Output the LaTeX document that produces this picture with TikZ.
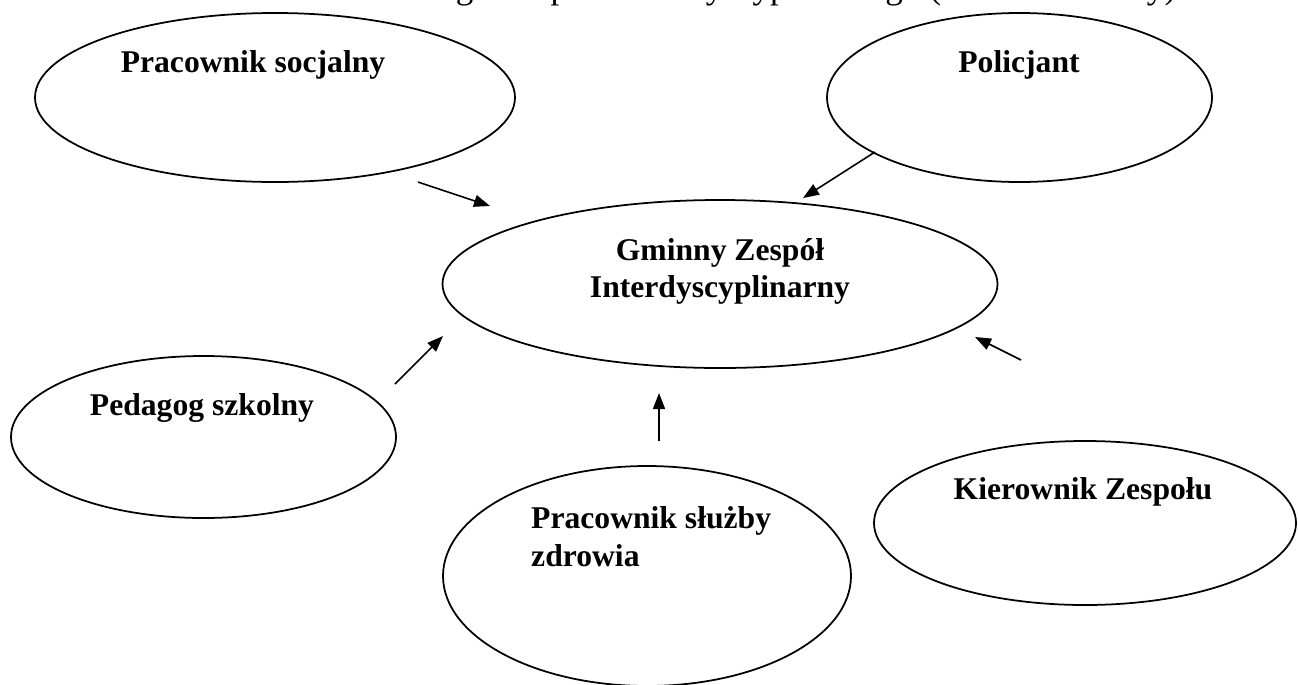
\documentclass[tikz,border=0pt]{standalone}
\usepackage{fontspec}
\setmainfont{Liberation Serif}
\usepackage{tikz}
\usetikzlibrary{shapes.geometric,arrows.meta}

\tikzset{
  oval/.style={ellipse, draw, line width=1pt, inner sep=0pt},
  lbl/.style={font=\fontsize{18}{21.5}\selectfont\bfseries},
  >={Triangle[length=0.32cm,width=0.24cm]}
}

\begin{document}
\begin{tikzpicture}
\useasboundingbox (0,0) rectangle (25.96,-13.68);
% line of text above, cut by the page edge
\node[anchor=base, inner sep=0pt, font=\fontsize{20}{24}\selectfont] (tytul) at (14.30,0.04) {Skład Gminnego Zespołu Interdyscyplinarnego (schemat własny)};

% ellipses
\node[oval, minimum width=9.6cm, minimum height=3.38cm] (soc) at (5.50,-1.95) {};
\node[oval, minimum width=7.7cm, minimum height=3.38cm] (pol) at (20.39,-1.95) {};
\node[oval, minimum width=11.1cm, minimum height=3.36cm] (gzi) at (14.40,-5.68) {};
\node[oval, minimum width=7.7cm, minimum height=3.24cm] (ped) at (4.07,-8.74) {};
\node[oval, minimum width=8.16cm, minimum height=4.4cm] (zdr) at (12.94,-11.52) {};
\node[oval, minimum width=8.44cm, minimum height=3.28cm] (kie) at (21.70,-10.46) {};

% texts
\node[lbl] (soc-t) at (5.06,-1.30) {Pracownik socjalny};
\node[lbl] (pol-t) at (20.38,-1.30) {Policjant};
\node[lbl, align=center] (gzi-t) at (14.40,-5.43) {Gminny Zespół\\Interdyscyplinarny};
\node[lbl] (ped-t) at (4.04,-8.16) {Pedagog szkolny};
\node[lbl, align=left, anchor=west] (zdr-t) at (10.50,-10.74) {Pracownik służby\\zdrowia};
\node[lbl] (kie-t) at (21.66,-9.84) {Kierownik Zespołu};

% arrow ends
\coordinate (a1) at (8.36,-3.64);  \coordinate (a2) at (9.80,-4.12);
\coordinate (b1) at (17.50,-3.04); \coordinate (b2) at (16.06,-3.96);
\coordinate (c1) at (7.90,-7.68);  \coordinate (c2) at (8.86,-6.72);
\coordinate (d1) at (13.18,-8.82); \coordinate (d2) at (13.18,-7.86);
\coordinate (e1) at (20.42,-7.20); \coordinate (e2) at (19.50,-6.74);

%\path[->,line width=1pt]
\path[->, line width=0.9pt]
(a1) edge (a2)
(b1) edge (b2)
(c1) edge (c2)
(d1) edge (d2)
(e1) edge (e2);
\end{tikzpicture}
\end{document}
